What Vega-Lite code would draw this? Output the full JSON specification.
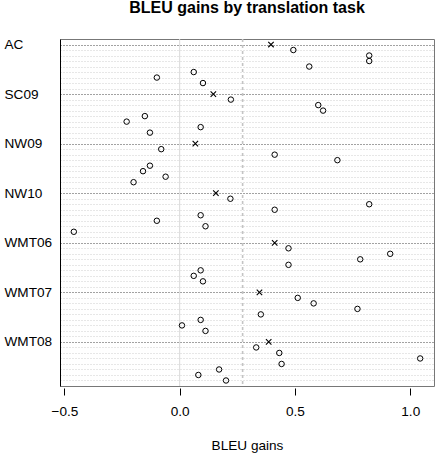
{
  "$schema": "https://vega.github.io/schema/vega-lite/v6.json",
  "autosize": "none",
  "padding": {"left": 60, "top": 39, "right": 4, "bottom": 76},
  "width": 374,
  "height": 347,
  "background": "white",
  "config": {
    "font": "Liberation Sans",
    "view": {"stroke": "#777", "strokeWidth": 1}
  },
  "title": {
    "text": "BLEU gains by translation task",
    "fontSize": 16,
    "fontWeight": "bold",
    "font": "Liberation Sans",
    "color": "black",
    "anchor": "middle",
    "offset": 22
  },
  "data": {
    "values": [
      {"row": "AC", "task": "AC", "type": "mean", "gain": 0.396},
      {"row": "AC.1", "task": "AC", "type": "item", "gain": 0.493},
      {"row": "AC.2", "task": "AC", "type": "item", "gain": 0.822},
      {"row": "AC.3", "task": "AC", "type": "item", "gain": 0.822},
      {"row": "AC.4", "task": "AC", "type": "item", "gain": 0.562},
      {"row": "AC.5", "task": "AC", "type": "item", "gain": 0.061},
      {"row": "AC.6", "task": "AC", "type": "item", "gain": -0.099},
      {"row": "AC.7", "task": "AC", "type": "item", "gain": 0.101},
      {"row": "SC09", "task": "SC09", "type": "mean", "gain": 0.146},
      {"row": "SC09.1", "task": "SC09", "type": "item", "gain": 0.222},
      {"row": "SC09.2", "task": "SC09", "type": "item", "gain": 0.601},
      {"row": "SC09.3", "task": "SC09", "type": "item", "gain": 0.622},
      {"row": "SC09.4", "task": "SC09", "type": "item", "gain": -0.151},
      {"row": "SC09.5", "task": "SC09", "type": "item", "gain": -0.230},
      {"row": "SC09.6", "task": "SC09", "type": "item", "gain": 0.091},
      {"row": "SC09.7", "task": "SC09", "type": "item", "gain": -0.129},
      {"row": "NW09", "task": "NW09", "type": "mean", "gain": 0.068},
      {"row": "NW09.1", "task": "NW09", "type": "item", "gain": -0.080},
      {"row": "NW09.2", "task": "NW09", "type": "item", "gain": 0.412},
      {"row": "NW09.3", "task": "NW09", "type": "item", "gain": 0.684},
      {"row": "NW09.4", "task": "NW09", "type": "item", "gain": -0.129},
      {"row": "NW09.5", "task": "NW09", "type": "item", "gain": -0.159},
      {"row": "NW09.6", "task": "NW09", "type": "item", "gain": -0.061},
      {"row": "NW09.7", "task": "NW09", "type": "item", "gain": -0.200},
      {"row": "NW10", "task": "NW10", "type": "mean", "gain": 0.157},
      {"row": "NW10.1", "task": "NW10", "type": "item", "gain": 0.220},
      {"row": "NW10.2", "task": "NW10", "type": "item", "gain": 0.822},
      {"row": "NW10.3", "task": "NW10", "type": "item", "gain": 0.412},
      {"row": "NW10.4", "task": "NW10", "type": "item", "gain": 0.091},
      {"row": "NW10.5", "task": "NW10", "type": "item", "gain": -0.099},
      {"row": "NW10.6", "task": "NW10", "type": "item", "gain": 0.112},
      {"row": "NW10.7", "task": "NW10", "type": "item", "gain": -0.459},
      {"row": "WMT06", "task": "WMT06", "type": "mean", "gain": 0.412},
      {"row": "WMT06.1", "task": "WMT06", "type": "item", "gain": 0.472},
      {"row": "WMT06.2", "task": "WMT06", "type": "item", "gain": 0.913},
      {"row": "WMT06.3", "task": "WMT06", "type": "item", "gain": 0.783},
      {"row": "WMT06.4", "task": "WMT06", "type": "item", "gain": 0.472},
      {"row": "WMT06.5", "task": "WMT06", "type": "item", "gain": 0.091},
      {"row": "WMT06.6", "task": "WMT06", "type": "item", "gain": 0.061},
      {"row": "WMT06.7", "task": "WMT06", "type": "item", "gain": 0.101},
      {"row": "WMT07", "task": "WMT07", "type": "mean", "gain": 0.346},
      {"row": "WMT07.1", "task": "WMT07", "type": "item", "gain": 0.512},
      {"row": "WMT07.2", "task": "WMT07", "type": "item", "gain": 0.581},
      {"row": "WMT07.3", "task": "WMT07", "type": "item", "gain": 0.771},
      {"row": "WMT07.4", "task": "WMT07", "type": "item", "gain": 0.352},
      {"row": "WMT07.5", "task": "WMT07", "type": "item", "gain": 0.091},
      {"row": "WMT07.6", "task": "WMT07", "type": "item", "gain": 0.010},
      {"row": "WMT07.7", "task": "WMT07", "type": "item", "gain": 0.112},
      {"row": "WMT08", "task": "WMT08", "type": "mean", "gain": 0.386},
      {"row": "WMT08.1", "task": "WMT08", "type": "item", "gain": 0.332},
      {"row": "WMT08.2", "task": "WMT08", "type": "item", "gain": 0.432},
      {"row": "WMT08.3", "task": "WMT08", "type": "item", "gain": 1.043},
      {"row": "WMT08.4", "task": "WMT08", "type": "item", "gain": 0.442},
      {"row": "WMT08.5", "task": "WMT08", "type": "item", "gain": 0.171},
      {"row": "WMT08.6", "task": "WMT08", "type": "item", "gain": 0.081},
      {"row": "WMT08.7", "task": "WMT08", "type": "item", "gain": 0.201}
    ]
  },
  "encoding": {
    "x": {
      "field": "gain",
      "type": "quantitative",
      "scale": {"domain": [-0.519, 1.103], "nice": false, "zero": false},
      "axis": {
        "title": "BLEU gains",
        "values": [-0.5, 0, 0.5, 1],
        "format": ".1f",
        "grid": false,
        "domain": false,
        "offset": 2,
        "tickSize": 7,
        "tickColor": "black",
        "labelFontSize": 13.6,
        "labelColor": "black",
        "labelPadding": 9,
        "titleFontSize": 13.6,
        "titleFontWeight": "normal",
        "titleColor": "black",
        "titlePadding": 21
      }
    },
    "y": {
      "field": "row",
      "type": "nominal",
      "scale": {
        "type": "point",
        "padding": 1,
        "domain": ["AC","AC.1","AC.2","AC.3","AC.4","AC.5","AC.6","AC.7","gap1",
                   "SC09","SC09.1","SC09.2","SC09.3","SC09.4","SC09.5","SC09.6","SC09.7","gap2",
                   "NW09","NW09.1","NW09.2","NW09.3","NW09.4","NW09.5","NW09.6","NW09.7","gap3",
                   "NW10","NW10.1","NW10.2","NW10.3","NW10.4","NW10.5","NW10.6","NW10.7","gap4",
                   "WMT06","WMT06.1","WMT06.2","WMT06.3","WMT06.4","WMT06.5","WMT06.6","WMT06.7","gap5",
                   "WMT07","WMT07.1","WMT07.2","WMT07.3","WMT07.4","WMT07.5","WMT07.6","WMT07.7","gap6",
                   "WMT08","WMT08.1","WMT08.2","WMT08.3","WMT08.4","WMT08.5","WMT08.6","WMT08.7"]
      },
      "axis": {
        "title": null,
        "ticks": false,
        "domain": true,
        "domainColor": "black",
        "labelAlign": "left",
        "labelBaseline": "middle",
        "labelPadding": 56,
        "labelFontSize": 13.6,
        "labelColor": "black",
        "labelExpr": "indexof(['AC','SC09','NW09','NW10','WMT06','WMT07','WMT08'], datum.value) >= 0 ? datum.value : ''",
        "grid": true,
        "gridDash": [1, 2],
        "gridWidth": 1,
        "gridColor": {
          "condition": {"test": "indexof(['AC','SC09','NW09','NW10','WMT06','WMT07','WMT08'], datum.value) >= 0", "value": "#444"},
          "value": "#cfcfcf"
        }
      }
    }
  },
  "layer": [
    {
      "data": {"values": [{"ref": 0}]},
      "mark": {"type": "rule", "color": "#d9d9d9", "strokeWidth": 1},
      "encoding": {"x": {"field": "ref", "type": "quantitative"}, "y": null}
    },
    {
      "data": {"values": [{"ref": 0.273}]},
      "mark": {"type": "rule", "color": "#c4c4c4", "strokeWidth": 1.6, "strokeDash": [3, 3]},
      "encoding": {"x": {"field": "ref", "type": "quantitative"}, "y": null}
    },
    {
      "transform": [{"filter": "datum.type === 'item'"}],
      "mark": {"type": "point", "shape": "circle", "filled": false, "size": 30, "stroke": "black", "strokeWidth": 1, "opacity": 1}
    },
    {
      "transform": [{"filter": "datum.type === 'mean'"}],
      "mark": {"type": "point", "shape": "M-1,-1L1,1M-1,1L1,-1", "filled": false, "size": 30, "stroke": "black", "strokeWidth": 1.1, "opacity": 1}
    }
  ]
}
